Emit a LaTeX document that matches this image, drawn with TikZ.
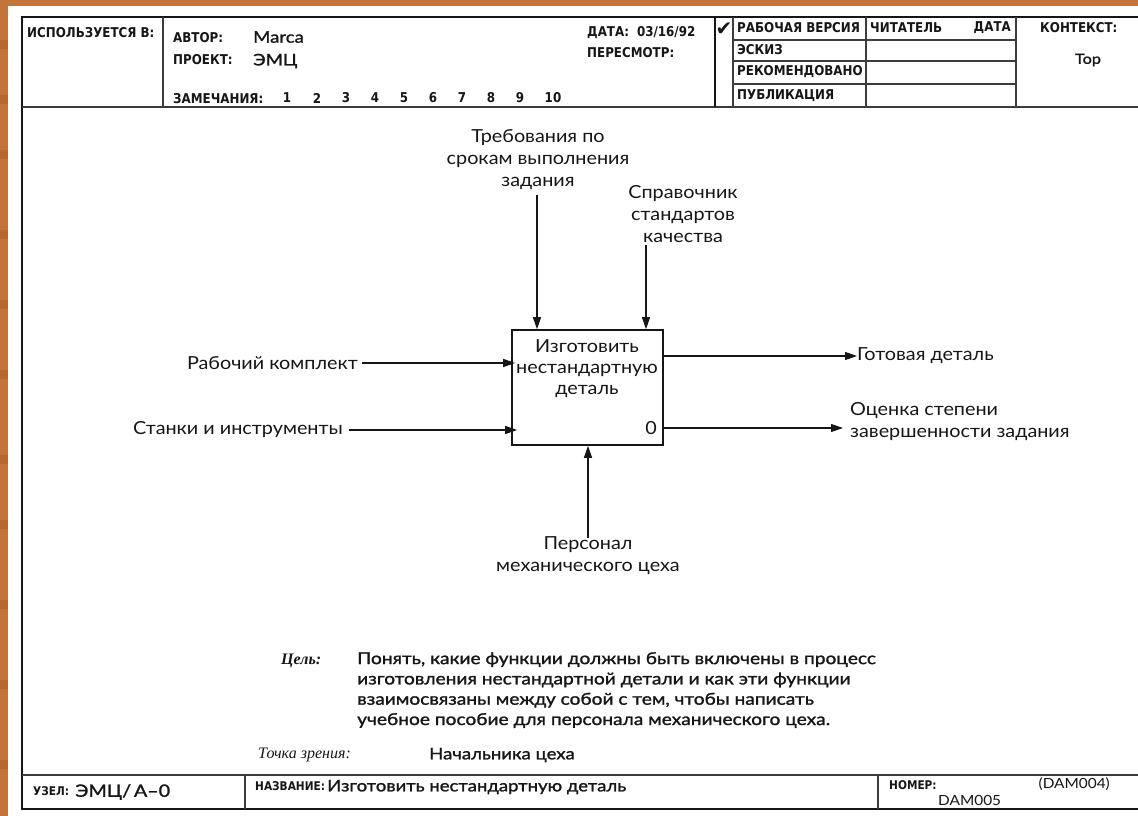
\documentclass[tikz,border=0pt]{standalone}
\usepackage{fontspec}
\usetikzlibrary{arrows.meta}
\setmainfont{Lato}
\newfontfamily\geo{Lato}[FakeStretch=1.1]
\newfontfamily\geob{Lato}[FakeStretch=1.16,FakeBold=1.4]
\newfontfamily\hdr{DejaVu Sans}[FakeStretch=0.88]
\newfontfamily\ser{Liberation Serif}
\newfontfamily\sym{DejaVu Sans}
\definecolor{wood}{RGB}{196,116,56}
\definecolor{wooddark}{RGB}{160,84,34}
\definecolor{ink}{RGB}{22,22,22}
\definecolor{rule}{RGB}{60,60,60}

\tikzset{
  frameline/.style={draw=ink, line width=1.6pt},
  gridline/.style={draw=rule, line width=1.3pt},
  hdrtext/.style={font=\hdr\bfseries\fontsize{13.5}{14}\selectfont, text=ink, inner sep=0pt, anchor=west},
  hdrsmall/.style={hdrtext, font=\hdr\bfseries\fontsize{12}{13}\selectfont},
  valtext/.style={font=\geob\fontsize{16}{18}\selectfont, text=ink, inner sep=0pt, anchor=west},
  lbl/.style={font=\geo\fontsize{18}{22}\selectfont, text=ink, inner sep=0pt, align=center},
  bodytext/.style={font=\geob\fontsize{16.5}{20.3}\selectfont, text=ink, inner sep=0pt, align=left},
  italtext/.style={font=\ser\itshape\fontsize{16}{18}\selectfont, text=ink, inner sep=0pt, anchor=west},
  actbox/.style={draw=ink, line width=1.6pt, minimum width=151pt, minimum height=115pt, inner sep=0pt},
  flow/.style={draw=ink, line width=1.1pt, -{Triangle[length=12pt,width=8pt]}},
}

\begin{document}
\begin{tikzpicture}[x=1pt,y=-1pt]
  % sheet on wooden background
  \fill[wood] (0,0) rectangle (1138,816);
  \foreach \yy in {40,95,150,230,300,370,455,520,600,680,760}
    \fill[wooddark,opacity=0.35] (0,\yy) rectangle (8,\yy+9);
  \fill[white] (8,6) rectangle (1138,816);
  \useasboundingbox (0,0) rectangle (1138,816);

  % outer frame, header and footer rules
  \draw[frameline] (1138,17) -- (22,17) -- (22,809) -- (1138,809);
  \draw[gridline] (22,107) -- (1138,107);
  \draw[gridline] (22,775) -- (1138,775);
  \draw[gridline] (163,17) -- (163,107);
  \draw[gridline] (245,775) -- (245,809);
  \draw[gridline] (878,775) -- (878,809);

  % status grid
  \draw[frameline] (715,17) -- (715,107);
  \draw[gridline] (733,17) -- (733,107);
  \draw[gridline] (866,17) -- (866,107);
  \draw[gridline] (1016,17) -- (1016,107);
  \foreach \yy in {40,61,84}
    \draw[gridline] (733,\yy) -- (1016,\yy);

  % header texts
  \node[hdrtext] (usedin) at (27,33) {ИСПОЛЬЗУЕТСЯ В:};
  \node[hdrtext] (author) at (173,38) {АВТОР:};
  \node[valtext] (authorv) at (253,37) {Marca};
  \node[hdrtext] (project) at (173,60) {ПРОЕКТ:};
  \node[valtext] (projectv) at (253,61) {ЭМЦ};
  \node[hdrtext] (notes) at (173,99) {ЗАМЕЧАНИЯ:};
  \foreach \n/\xx in {1/287,2/317,3/346,4/375,5/404,6/433,7/462,8/491,9/520,10/553}
    \node[hdrtext,anchor=center] (note\n) at (\xx,98) {\n};
  \node[hdrtext] (date) at (587,33) {ДАТА:\hspace{8pt}03/16/92};
  \node[hdrtext] (rev) at (587,53) {ПЕРЕСМОТР:};
  \node[font=\sym\fontsize{20}{20}\selectfont, text=ink, inner sep=0pt] (tick) at (724,29) {✔};
  \node[hdrtext] (st1) at (737,28) {РАБОЧАЯ ВЕРСИЯ};
  \node[hdrtext] (st2) at (737,50) {ЭСКИЗ};
  \node[hdrtext] (st3) at (737,72) {РЕКОМЕНДОВАНО};
  \node[hdrtext] (st4) at (737,96) {ПУБЛИКАЦИЯ};
  \node[hdrtext] (reader) at (870,28) {ЧИТАТЕЛЬ};
  \node[hdrtext,anchor=east] (rdate) at (1011,28) {ДАТА};
  \node[hdrtext] (context) at (1040,28) {КОНТЕКСТ:};
  \node[font=\geob\fontsize{14}{16}\selectfont, text=ink, inner sep=0pt] (top) at (1088,60) {Top};

  % activity box
  \node[actbox] (box) at (587.5,387.5) {};
  \node[lbl, font=\geo\fontsize{18}{21}\selectfont] (boxname) at (587,369) {Изготовить\\нестандартную\\деталь};
  \node[lbl] (boxnum) at (651,428) {0};

  % controls
  \node[lbl] (req) at (538,160) {Требования по\\срокам выполнения\\задания};
  \node[lbl] (std) at (683,214) {Справочник\\стандартов\\качества};
  \coordinate (reqend) at (537,195);
  \coordinate (stdend) at (646,245);
  \draw[flow] (reqend) -- (reqend |- box.north);
  \draw[flow] (stdend) -- (stdend |- box.north);

  % inputs
  \node[lbl, anchor=east] (kit) at (358,363) {Рабочий комплект};
  \node[lbl, anchor=east] (tools) at (343,430) {Станки и инструменты};
  \draw[flow] ([xshift=4pt]kit.east) -- ([xshift=4pt]kit.east -| box.west);
  \draw[flow] ([xshift=6pt]tools.east) -- ([xshift=6pt]tools.east -| box.west);

  % outputs
  \node[lbl, anchor=west] (part) at (857,356) {Готовая деталь};
  \node[lbl, anchor=west, align=left] (rate) at (850,422) {Оценка степени\\завершенности задания};
  \draw[flow] (part.west -| box.east) -- (part.west);
  \coordinate (rateend) at (843,428);
  \draw[flow] (rateend -| box.east) -- (rateend);

  % mechanism
  \node[lbl] (staff) at (588,556) {Персонал\\механического цеха};
  \coordinate (staffend) at (588,538);
  \draw[flow] (staffend) -- (staffend |- box.south);

  % purpose and viewpoint
  \node[italtext, font=\ser\bfseries\itshape\fontsize{16}{18}\selectfont] (goal) at (281,661) {Цель:};
  \node[bodytext, anchor=north west] (goaltext) at (357,652) {Понять, какие функции должны быть включены в процесс\\изготовления нестандартной детали и как эти функции\\взаимосвязаны между собой с тем, чтобы написать\\учебное пособие для персонала механического цеха.};
  \node[italtext] (view) at (258,755) {Точка зрения:};
  \node[valtext] (viewv) at (429,755) {Начальника цеха};

  % footer texts
  \node[hdrsmall] (nodelbl) at (33,791) {УЗЕЛ:};
  \node[valtext, font=\geob\fontsize{17}{18}\selectfont] (nodev) at (75,792) {ЭМЦ/\,А–0};
  \node[hdrsmall] (titlelbl) at (255,786) {НАЗВАНИЕ:};
  \node[valtext] (titlev) at (327,787) {Изготовить нестандартную деталь};
  \node[hdrsmall] (numlbl) at (889,785) {НОМЕР:};
  \node[font=\geo\fontsize{14}{16}\selectfont, text=ink, inner sep=0pt, anchor=east] (num1) at (1110,784) {(DAM004)};
  \node[font=\geo\fontsize{14}{16}\selectfont, text=ink, inner sep=0pt, anchor=west] (num2) at (938,800) {DAM005};
\end{tikzpicture}
\end{document}
